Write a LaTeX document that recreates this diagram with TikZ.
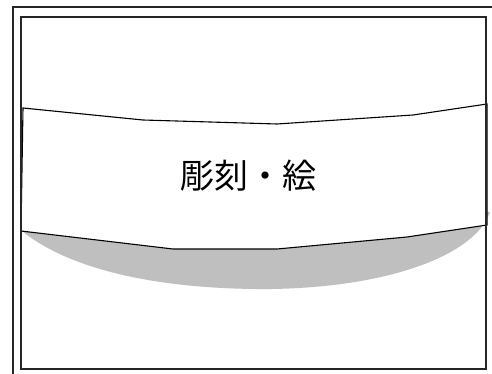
\documentclass[tikz,border=0pt]{standalone}
\usepackage{fontspec}
\newfontfamily\cjk{Noto Sans CJK JP}
\tikzset{
  frameline/.style={draw=black!85, line width=1.3pt},
  bandline/.style={draw=black, line width=1.1pt, fill=white, line join=miter},
  shadow/.style={fill=black!25, draw=none},
}
\begin{document}
\begin{tikzpicture}[x=1pt,y=-1pt]
\useasboundingbox (0,0) rectangle (492,374);
\clip (0,0) rectangle (492,374);
\fill[white] (0,0) rectangle (492,374);
% shadow under band
\path[shadow] (22,231) -- (490,212)
  .. controls (475,255) and (390,287) .. (272,289)
  .. controls (160,290) and (70,270) .. cycle;
% band
\path[bandline] (23,108) -- (143,120) -- (277,124) -- (413,115) -- (487,104)
  -- (487,225) -- (407,237) -- (277,249) -- (173,249) -- (21,231) -- cycle;
\node[font=\cjk\fontsize{34}{40}\selectfont, inner sep=0pt] (label) at (248,176) {彫刻・絵};
% frames
\draw[frameline] (13,7) rectangle (520,400);
\draw[frameline] (21,17) rectangle (486,369);
\end{tikzpicture}
\end{document}
